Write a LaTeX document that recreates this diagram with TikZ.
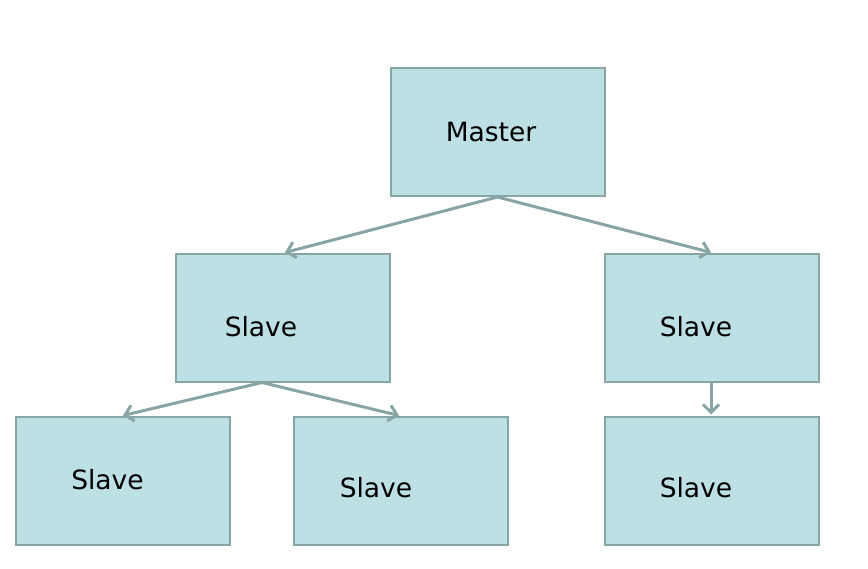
\documentclass[tikz,border=0pt]{standalone}
\usepackage{fontspec}
\setmainfont{DejaVu Sans}
\usetikzlibrary{arrows.meta,calc}
\definecolor{boxfill}{HTML}{BCE0E3}
\definecolor{boxline}{HTML}{87A5A5}
\tikzset{
  box/.style={draw=boxline, fill=boxfill, line width=2pt, rectangle, inner sep=0pt, minimum width=214pt, minimum height=128pt},
  lbl/.style={font=\fontsize{26.5}{30}\selectfont, anchor=base, inner sep=0pt},
  conn/.style={draw=boxline, line width=3pt, -{Straight Barb[length=8pt,width=16pt,line width=3pt]}}
}
\begin{document}
\begin{tikzpicture}[x=1pt,y=-1pt]
\useasboundingbox (0,0) rectangle (868,568);
\node[box] (M) at (497.5,132) {};
\node[box] (L1) at (283,317.5) {};
\node[box] (R1) at (712,317.5) {};
\node[box] (LL) at (123,480.5) {};
\node[box] (LM) at (401,480.5) {};
\node[box] (RR) at (712,480.5) {};
\node[lbl] (tM) at (491,141) {Master};
\node[lbl] (tL1) at (261,336.5) {Slave};
\node[lbl] (tR1) at (696,336.5) {Slave};
\node[lbl] (tLL) at (107.5,489.5) {Slave};
\node[lbl] (tLM) at (376,497.5) {Slave};
\node[lbl] (tRR) at (696,497.5) {Slave};
\coordinate (l1s) at ($(L1.south)+(-21,0)$);
\draw[conn] (M.south) -- ($(L1.north)+(2,0)$);
\draw[conn] (M.south) -- ($(R1.north)+(-1,0)$);
\draw[conn] (l1s) -- (LL.north);
\draw[conn] (l1s) -- ($(LM.north)+(-2,0)$);
\draw[conn] ($(R1.south)+(-1,0)$) -- ($(RR.north)+(-1,-1)$);
\end{tikzpicture}
\end{document}
